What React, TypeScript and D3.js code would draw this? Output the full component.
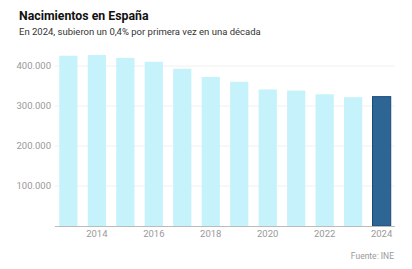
import { useEffect, useRef } from "react";
import * as d3 from "d3";

// Nacimientos anuales (INE)
const years = ["2013", "2014", "2015", "2016", "2017", "2018", "2019", "2020", "2021", "2022", "2023", "2024"];
const births = [425715, 427595, 420290, 410583, 393181, 372777, 360617, 341315, 338532, 329251, 322075, 323416];
const yTicks = [100000, 200000, 300000, 400000];
const xLabels = ["2014", "2016", "2018", "2020", "2022", "2024"];

const W = 412;
const H = 269;
const FONT = "Roboto, 'Noto Sans', sans-serif";

const App = () => {
  const svgRef = useRef<SVGSVGElement>(null);

  useEffect(() => {
    const svg = d3.select(svgRef.current);
    svg.selectAll("*").remove();

    const left = 55;
    const right = 395;
    const bottom = 226;

    const x = d3.scaleBand<string>().domain(years).range([left, right]).paddingInner(0.36).paddingOuter(0.15);
    const y = d3.scaleLinear().domain([0, 400000]).range([bottom, 66]);
    const fmt = (v: number) => d3.format(",")(v).replace(/,/g, ".");

    // Titles
    svg
      .append("text")
      .attr("x", 19)
      .attr("y", 20)
      .attr("font-family", FONT)
      .attr("font-weight", 700)
      .attr("font-size", 12.3)
      .attr("fill", "#111")
      .text("Nacimientos en España");
    svg
      .append("text")
      .attr("x", 19)
      .attr("y", 34.5)
      .attr("font-family", FONT)
      .attr("font-size", 9.5)
      .attr("fill", "#333")
      .text("En 2024, subieron un 0,4% por primera vez en una década");

    // Gridlines + y labels
    const grid = svg.append("g");
    grid
      .selectAll("line")
      .data(yTicks)
      .join("line")
      .attr("x1", left)
      .attr("x2", right)
      .attr("y1", (d) => y(d))
      .attr("y2", (d) => y(d))
      .attr("stroke", "#f0f0f0")
      .attr("stroke-width", 1);
    grid
      .selectAll("text")
      .data(yTicks)
      .join("text")
      .attr("x", 51)
      .attr("y", (d) => y(d))
      .attr("dy", "0.35em")
      .attr("text-anchor", "end")
      .attr("font-family", FONT)
      .attr("font-size", 9.5)
      .attr("fill", "#999")
      .text((d) => fmt(d));

    // Bars
    svg
      .append("g")
      .selectAll("rect")
      .data(years)
      .join("rect")
      .attr("x", (d) => x(d)!)
      .attr("y", (d, i) => y(births[i]))
      .attr("width", x.bandwidth())
      .attr("height", (d, i) => bottom - y(births[i]))
      .attr("fill", (d) => (d === "2024" ? "#2d6594" : "#c6f2fb"))
      .attr("stroke", (d) => (d === "2024" ? "#1b4a78" : "none"))
      .attr("stroke-width", 1);

    // Baseline
    svg
      .append("line")
      .attr("x1", left)
      .attr("x2", right)
      .attr("y1", bottom + 0.5)
      .attr("y2", bottom + 0.5)
      .attr("stroke", "#bbb");

    // x labels
    svg
      .append("g")
      .selectAll("text")
      .data(xLabels)
      .join("text")
      .attr("x", (d) => x(d)! + x.bandwidth() / 2)
      .attr("y", 237)
      .attr("text-anchor", "middle")
      .attr("font-family", FONT)
      .attr("font-size", 9.5)
      .attr("fill", "#999")
      .text((d) => d);

    svg
      .append("text")
      .attr("x", 394)
      .attr("y", 259)
      .attr("text-anchor", "end")
      .attr("font-family", FONT)
      .attr("font-size", 8.5)
      .attr("fill", "#999")
      .text("Fuente: INE");
  }, []);

  return (
    <svg
      ref={svgRef}
      width={W}
      height={H}
      style={{ position: "fixed", left: 0, top: 0, background: "#fff" }}
    />
  );
};

export default App;
